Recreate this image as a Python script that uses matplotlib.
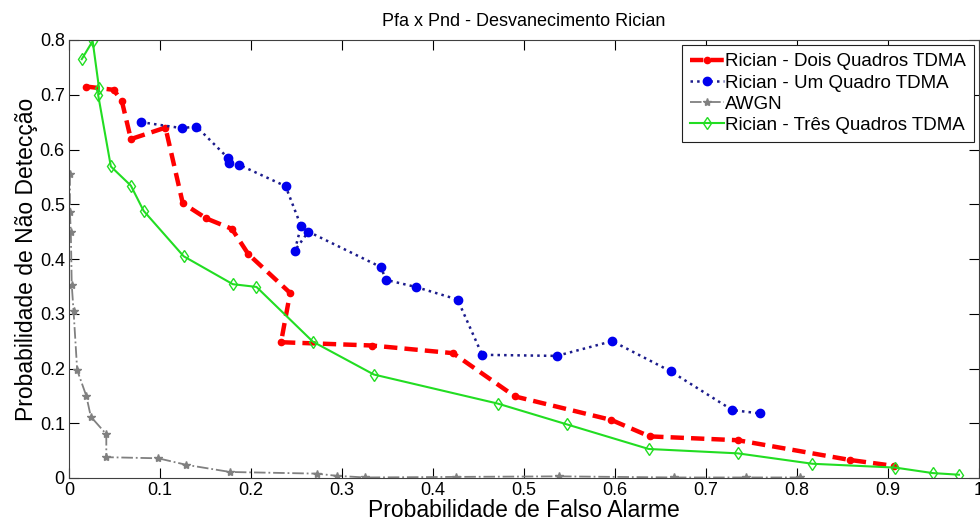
import matplotlib
matplotlib.use("Agg")
import matplotlib.pyplot as plt

plt.rcParams['font.family'] = ['Liberation Sans', 'DejaVu Sans']

# Rician - Dois Quadros TDMA
pfa_dois = [0.019, 0.049, 0.058, 0.068, 0.106, 0.125, 0.151, 0.179, 0.197, 0.243,
            0.233, 0.333, 0.422, 0.490, 0.596, 0.638, 0.735, 0.858, 0.907]
pnd_dois = [0.715, 0.709, 0.689, 0.619, 0.640, 0.502, 0.474, 0.455, 0.409, 0.338,
            0.248, 0.242, 0.228, 0.149, 0.106, 0.076, 0.069, 0.033, 0.022]

# Rician - Um Quadro TDMA
pfa_um = [0.079, 0.124, 0.140, 0.175, 0.176, 0.187, 0.238, 0.255, 0.248, 0.263,
          0.343, 0.348, 0.381, 0.427, 0.454, 0.536, 0.597, 0.661, 0.729, 0.759]
pnd_um = [0.650, 0.639, 0.642, 0.584, 0.576, 0.572, 0.533, 0.460, 0.415, 0.450,
          0.385, 0.362, 0.349, 0.326, 0.225, 0.223, 0.250, 0.195, 0.124, 0.118]

# AWGN
pfa_awgn = [0.001, 0.001, 0.002, 0.003, 0.005, 0.009, 0.019, 0.024, 0.041, 0.041,
            0.098, 0.129, 0.177, 0.272, 0.294, 0.325, 0.425, 0.538, 0.665, 0.744, 0.803]
pnd_awgn = [0.555, 0.485, 0.450, 0.353, 0.305, 0.197, 0.150, 0.112, 0.080, 0.038,
            0.036, 0.024, 0.011, 0.008, 0.004, 0.001, 0.002, 0.003, 0.001, 0.001, 0.001]

# Rician - Tres Quadros TDMA
pfa_tres = [0.014, 0.026, 0.033, 0.032, 0.046, 0.068, 0.082, 0.126, 0.180, 0.206,
            0.268, 0.335, 0.471, 0.547, 0.637, 0.735, 0.817, 0.908, 0.949, 0.978]
pnd_tres = [0.765, 0.798, 0.712, 0.700, 0.569, 0.534, 0.488, 0.405, 0.354, 0.349,
            0.249, 0.189, 0.136, 0.098, 0.053, 0.045, 0.026, 0.019, 0.009, 0.006]

xticks = [0, 0.1, 0.2, 0.3, 0.4, 0.5, 0.6, 0.7, 0.8, 0.9, 1]
xlabels = ['0', '0.1', '0.2', '0.3', '0.4', '0.5', '0.6', '0.7', '0.8', '0.9', '1']
yticks = [0, 0.1, 0.2, 0.3, 0.4, 0.5, 0.6, 0.7, 0.8]
ylabels = ['0', '0.1', '0.2', '0.3', '0.4', '0.5', '0.6', '0.7', '0.8']

fig = plt.figure(figsize=(9.8, 5.26), dpi=100)
ax = fig.add_axes([69 / 980, 48 / 526, 910 / 980, 438 / 526])

ax.plot(pfa_dois, pnd_dois, '--', color='#ff0000', lw=3.2, marker='.', markersize=9,
        dashes=(3, 1.6), label='Rician - Dois Quadros TDMA')
ax.plot(pfa_um, pnd_um, ':', color='#1c1c8c', lw=1.8, marker='o', markersize=6,
        markerfacecolor='#0000ee', markeredgecolor='#0000ee', label='Rician - Um Quadro TDMA')
ax.plot(pfa_awgn, pnd_awgn, '-.', color='#808080', lw=1.3, marker='*', markersize=6,
        label='AWGN')
ax.plot(pfa_tres, pnd_tres, '-', color='#22dd22', lw=1.5, marker='d', markersize=6,
        markerfacecolor='none', label='Rician - Três Quadros TDMA')

ax.set_xlim(0, 1)
ax.set_ylim(0, 0.8)
ax.set_xticks(xticks)
ax.set_xticklabels(xlabels)
ax.set_yticks(yticks)
ax.set_yticklabels(ylabels)
ax.tick_params(direction='in', top=True, right=True, length=7, labelsize=13, pad=3)
for s in ax.spines.values():
    s.set_color('#404040')

ax.set_title('Pfa x Pnd - Desvanecimento Rician', fontsize=13, pad=10)
ax.set_xlabel('Probabilidade de Falso Alarme', fontsize=16.5, labelpad=0)
ax.set_ylabel('Probabilidade de Não Detecção', fontsize=16.5, labelpad=1)

leg = ax.legend(loc='upper right', fontsize=13.5, handlelength=1.8, handletextpad=0.05,
                borderpad=0.45, labelspacing=0.22, fancybox=False, framealpha=1,
                borderaxespad=0.25)
leg.get_frame().set_edgecolor('#202020')
leg.get_frame().set_linewidth(0.8)

fig.savefig('out.png', dpi=100)
